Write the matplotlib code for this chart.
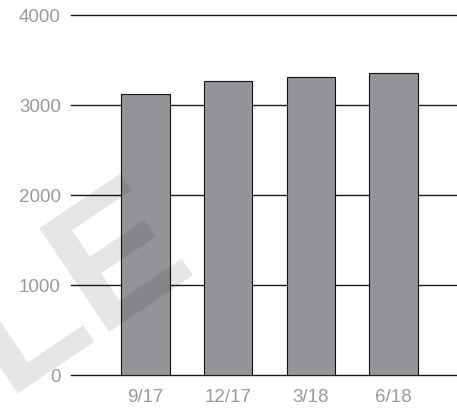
import matplotlib
matplotlib.use("Agg")
import matplotlib.pyplot as plt
import numpy as np

categories = ["9/17", "12/17", "3/18", "6/18"]
values = [3120, 3265, 3310, 3355]
yticks = [0, 1000, 2000, 3000, 4000]

plt.rcParams['font.family'] = ['Liberation Sans', 'DejaVu Sans']

fig = plt.figure(figsize=(4.57, 4.08), dpi=100)
ax = fig.add_axes([0.1547, 0.0797, 1 - 0.1547, 0.9632 - 0.0797])

x = np.arange(len(categories))
for t in yticks:
    ax.axhline(t, color='#1a1a1a', lw=1.0, zorder=1, clip_on=False)
ax.bar(x, values, width=0.587, color='#939598', edgecolor='#111111',
       linewidth=0.8, zorder=3)

ax.set_xlim(-0.906, 3.77)
ax.set_ylim(0, 4000)
ax.set_yticks(yticks)
ax.set_yticklabels([str(t) for t in yticks])
ax.set_xticks(x)
ax.set_xticklabels(categories)
ax.tick_params(axis='both', length=0, labelsize=13.5, labelcolor='#9a9a9a')
ax.tick_params(axis='y', pad=7)
ax.tick_params(axis='x', pad=10)
for s in ax.spines.values():
    s.set_visible(False)

fig.text(0.4354, 0.343, "SAMPLE", fontsize=130, fontweight='bold',
         family='Liberation Sans', color='black', alpha=0.1,
         rotation=34, rotation_mode='anchor', ha='right', va='baseline',
         zorder=10)

fig.savefig("out.png", dpi=100)
